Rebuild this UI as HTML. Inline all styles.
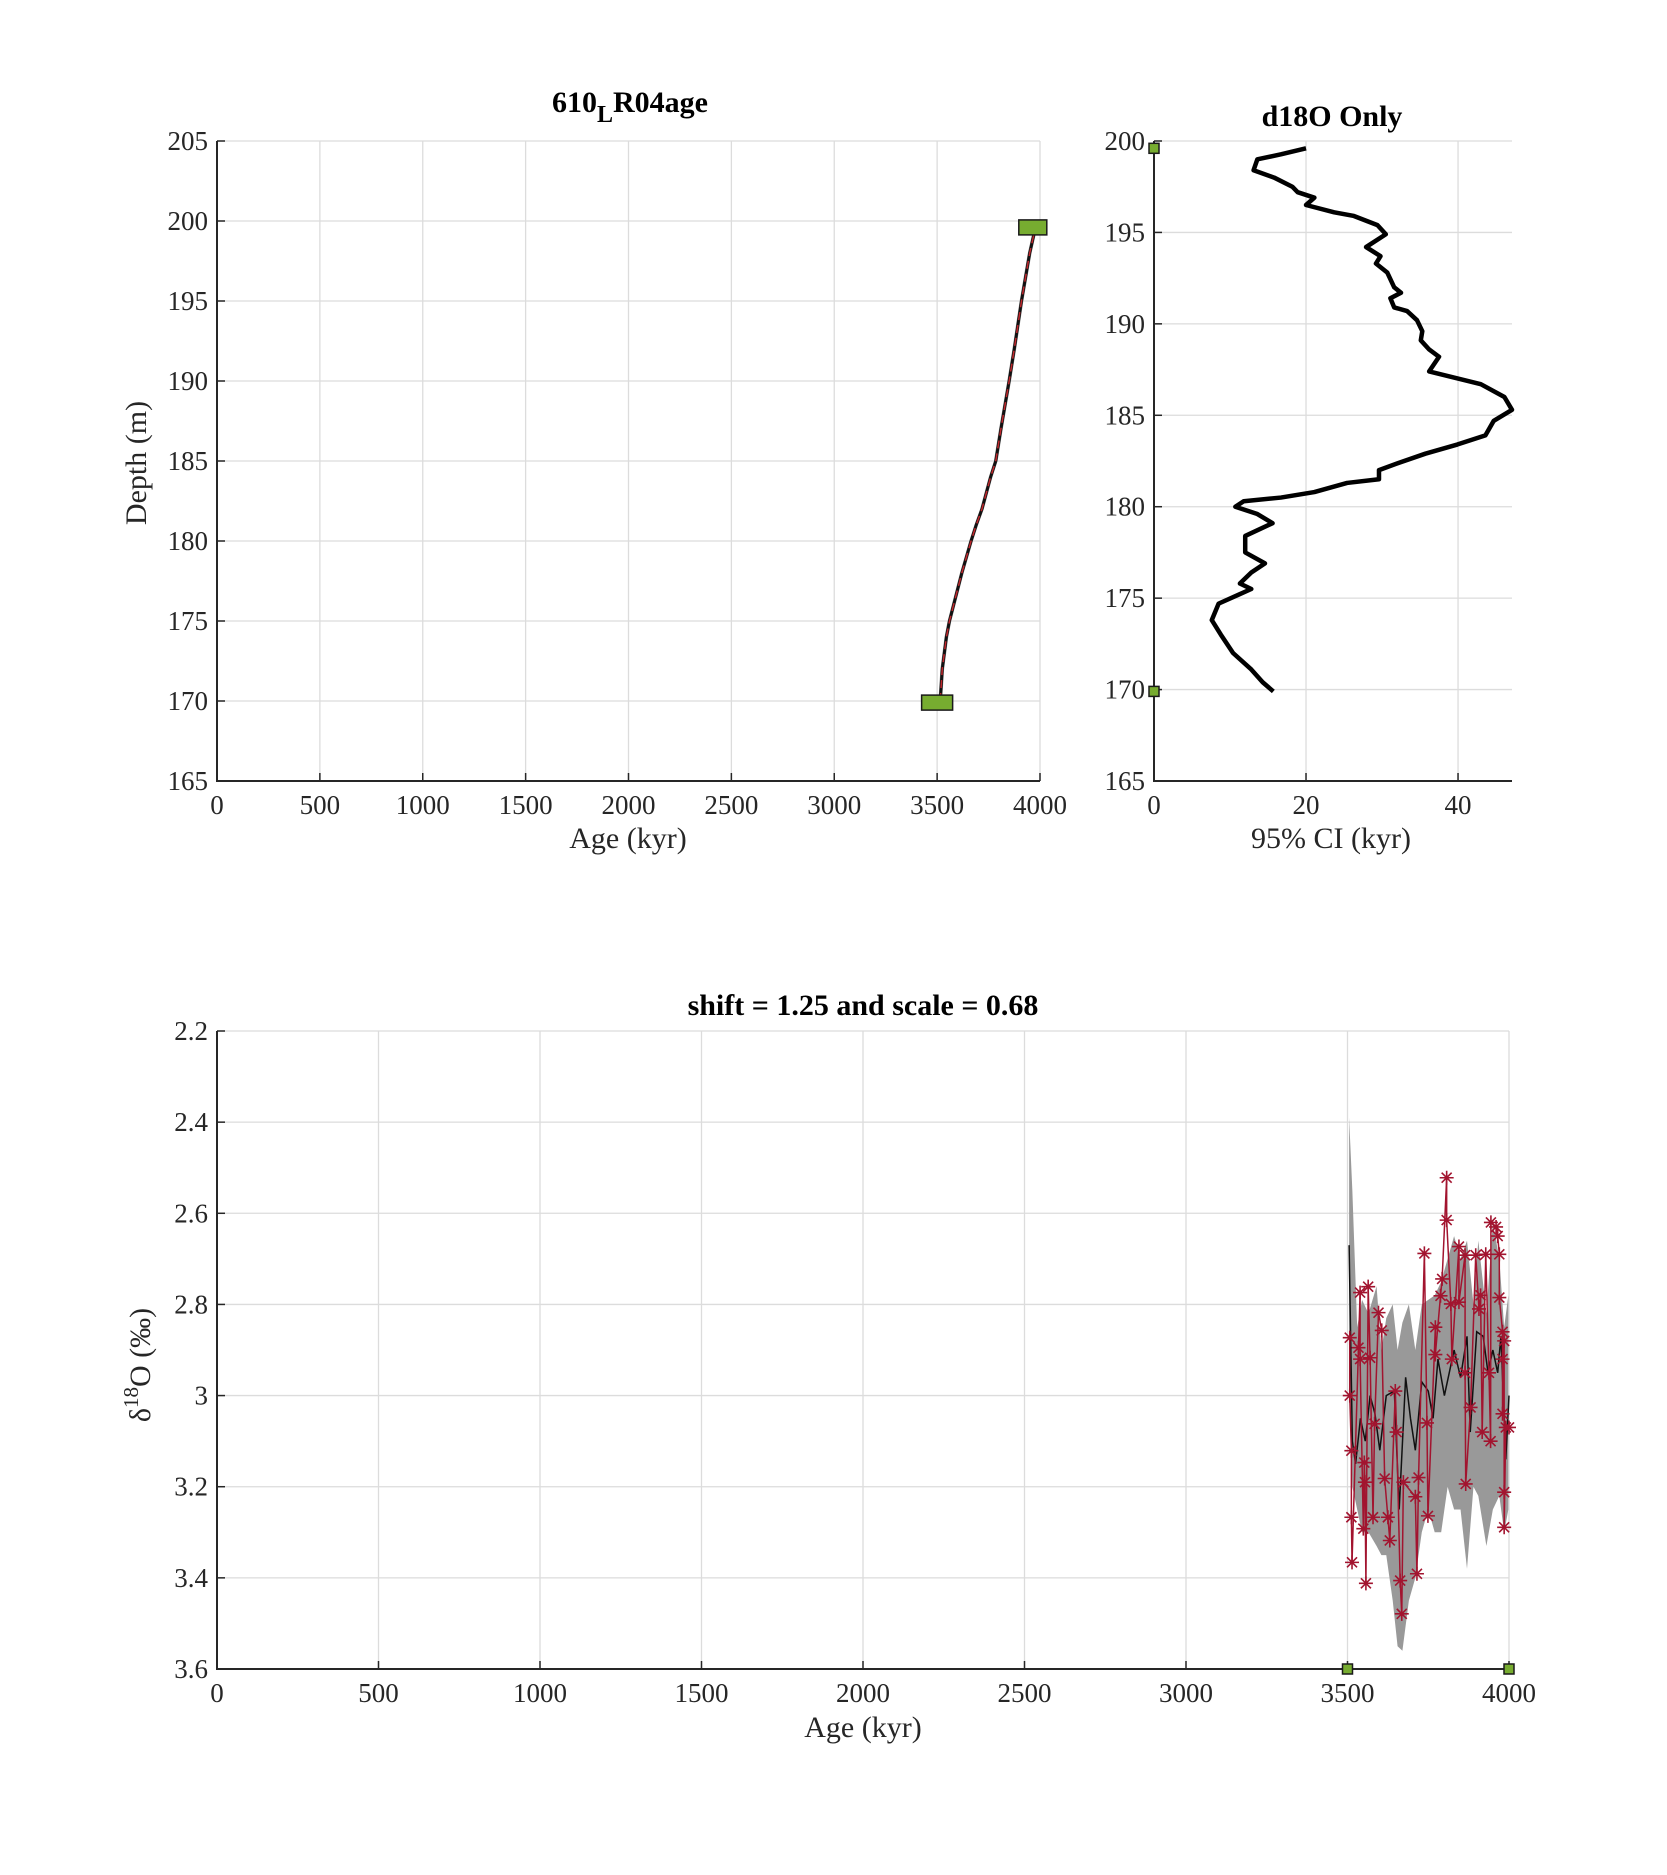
<!DOCTYPE html>
<html><head><meta charset="utf-8"><style>
body{margin:0;background:#fff}
svg{display:block}
text{font-family:"Liberation Serif",serif;fill:#262626}
</style></head><body>
<svg id="fig" width="1667" height="1875" viewBox="0 0 1667 1875" xmlns="http://www.w3.org/2000/svg">
<rect width="1667" height="1875" fill="#fff"/>
<g id="p1"></g>
<g id="p2"></g>
<g id="p3"></g>
<text x="630" y="112" text-anchor="middle" font-size="30" font-weight="bold" style="fill:#000">610<tspan font-size="24" dy="10">L</tspan><tspan dy="-10">R04age</tspan></text>
<text x="1332" y="126" text-anchor="middle" font-size="30" font-weight="bold" style="fill:#000">d18O Only</text>
<text x="863" y="1015" text-anchor="middle" font-size="30" font-weight="bold" style="fill:#000">shift = 1.25 and scale = 0.68</text>
<text transform="translate(146,463) rotate(-90)" text-anchor="middle" font-size="30">Depth (m)</text>
<text x="628" y="848" text-anchor="middle" font-size="30">Age (kyr)</text>
<text x="1331" y="848" text-anchor="middle" font-size="30">95% CI (kyr)</text>
<text x="863" y="1737" text-anchor="middle" font-size="30">Age (kyr)</text>
<text transform="translate(150,1365) rotate(-90)" text-anchor="middle" font-size="30">δ<tspan font-size="21" dy="-12">18</tspan><tspan dy="12">O (‰)</tspan></text>
</svg>
<script>
// ---- Panel 1: age-depth model ----
const adDepths = [170, 172, 174, 175, 176, 178, 180, 181, 182, 184, 185, 187, 190, 192, 195, 198, 200];
const adAges = [3515, 3525, 3545, 3560, 3580, 3620, 3665, 3690, 3718, 3760, 3785, 3810, 3850, 3875, 3910, 3950, 3985];
const adTiePointAges = [3500, 3965];
const adTiePointDepths = [169.9, 199.6];
// ---- Panel 2: 95% CI ----
const ciValues = [20.0,16.7,13.6,13.1,15.8,18.2,18.9,21.1,20.0,23.7,26.3,29.4,30.5,27.9,29.8,29.2,30.7,31.6,32.5,31.1,31.6,33.3,34.6,35.3,35.1,36.2,37.5,36.2,43.0,46.1,47.1,44.7,43.6,39.9,35.7,32.2,29.6,29.6,25.4,21.1,16.7,11.8,10.7,13.6,15.6,12.0,12.0,14.6,12.8,11.3,12.8,11.2,8.5,7.6,8.8,10.4,12.8,14.3,15.7];
const ciDepths = [199.6,199.27,199.0,198.4,198.0,197.5,197.2,196.9,196.5,196.1,195.9,195.4,194.9,194.2,193.7,193.3,192.8,192.0,191.7,191.4,190.9,190.7,190.2,189.6,189.1,188.6,188.2,187.4,186.7,186.0,185.3,184.7,183.9,183.4,182.9,182.4,182.0,181.5,181.3,180.8,180.5,180.3,180.0,179.6,179.1,178.4,177.5,176.9,176.4,175.8,175.5,175.2,174.7,173.8,173.0,172.0,171.1,170.4,169.9];
const ciTieDepths = [199.6, 169.9];
// ---- Panel 3: d18O ----
const obsAges = [3507,3507,3512,3512,3514,3534,3539,3539,3549,3552,3554,3557,3564,3570,3579,3584,3596,3606,3615,3625,3631,3648,3652,3663,3668,3673,3710,3715,3720,3738,3746,3749,3772,3772,3788,3793,3807,3807,3820,3823,3845,3845,3864,3864,3866,3881,3897,3907,3912,3917,3928,3938,3943,3944,3960,3965,3970,3970,3980,3980,3980,3985,3985,3985,3990,4000];
const obsValues = [2.873,3.0,3.121,3.267,3.366,2.895,2.774,2.92,3.292,3.147,3.19,3.412,2.761,2.917,3.267,3.062,2.818,2.857,3.182,3.267,3.318,2.99,3.08,3.406,3.479,3.19,3.222,3.391,3.18,2.688,3.06,3.264,2.85,2.91,2.781,2.744,2.522,2.615,2.799,2.92,2.673,2.795,2.692,2.95,3.194,3.026,2.692,2.81,2.78,3.08,2.69,2.95,3.1,2.62,2.63,2.65,2.69,2.785,2.86,2.92,3.04,2.88,3.212,3.289,3.07,3.07];
const meanAges = [3505,3515,3525,3540,3555,3570,3585,3600,3620,3645,3660,3680,3695,3710,3730,3750,3765,3780,3800,3815,3830,3850,3870,3880,3900,3920,3935,3950,3965,3975,3990,4000];
const meanValues = [2.67,3.1,3.15,3.05,3.1,3.0,3.04,3.12,3.0,2.99,3.25,2.96,3.05,3.12,2.97,2.99,3.05,2.92,3.0,2.95,2.9,2.96,2.87,3.08,2.86,2.87,2.95,2.9,2.95,2.87,3.14,3.0];
const bandAges = [3505,3515,3530,3545,3565,3590,3605,3620,3640,3655,3670,3690,3710,3730,3750,3770,3790,3810,3830,3850,3870,3890,3905,3930,3950,3970,3985,3998];
const bandUpper = [2.39,2.55,2.85,2.79,2.82,2.76,2.9,2.83,2.8,2.9,2.84,2.8,2.9,2.8,2.79,2.78,2.75,2.7,2.65,2.7,2.66,2.8,2.66,2.82,2.62,2.7,2.85,2.78];
const bandLower = [2.95,3.2,3.25,3.3,3.3,3.33,3.35,3.35,3.45,3.55,3.56,3.45,3.4,3.3,3.25,3.3,3.3,3.2,3.25,3.25,3.38,3.2,3.22,3.33,3.25,3.22,3.3,3.25];
const p3TieAges = [3500, 4000];
const p1XTicks = [0,500,1000,1500,2000,2500,3000,3500,4000];
const p1YTicks = [165,170,175,180,185,190,195,200,205];
const p2XTicks = [0,20,40];
const p2YTicks = [165,170,175,180,185,190,195,200];
const p3XTicks = [0,500,1000,1500,2000,2500,3000,3500,4000];
const p3YTicks = [2.2,2.4,2.6,2.8,3,3.2,3.4,3.6];

const NS="http://www.w3.org/2000/svg";
function mk(parent,tag,attrs){const e=document.createElementNS(NS,tag);for(const k in attrs)e.setAttribute(k,attrs[k]);parent.appendChild(e);return e;}
function lin(d0,d1,r0,r1){return v=>r0+(v-d0)/(d1-d0)*(r1-r0);}

function axes(g,x0,x1,y0,y1,sx,sy,xt,yt,prefix){
  xt.forEach(t=>{const l=mk(g,'line',{x1:sx(t),x2:sx(t),y1:y0,y2:y1,stroke:'#dcdcdc','stroke-width':1.3});
    
    });
  yt.forEach(t=>{const l=mk(g,'line',{x1:x0,x2:x1,y1:sy(t),y2:sy(t),stroke:'#dcdcdc','stroke-width':1.3});
    
    });
}
function frame(g,x0,x1,y0,y1,sx,sy,xt,yt,prefix,fmtY){
  const a=mk(g,'path',{d:`M${x0},${y0}V${y1}H${x1}`,stroke:'#262626','stroke-width':2,fill:'none'});
  
  
  xt.forEach(t=>{mk(g,'line',{x1:sx(t),x2:sx(t),y1:y1,y2:y1-8,stroke:'#262626','stroke-width':1.5});
    const tx=mk(g,'text',{x:sx(t),y:y1+33,'text-anchor':'middle','font-size':27});tx.textContent=t;
    
    });
  yt.forEach(t=>{mk(g,'line',{x1:x0,x2:x0+8,y1:sy(t),y2:sy(t),stroke:'#262626','stroke-width':1.5});
    const tx=mk(g,'text',{x:x0-9,y:sy(t)+9,'text-anchor':'end','font-size':27});tx.textContent=fmtY?fmtY(t):t;
    
    });
}
function square(g,cx,cy,w,h,name){const r=mk(g,'rect',{x:cx-w/2,y:cy-h/2,width:w,height:h,fill:'#77ac30',stroke:'#1a1a1a','stroke-width':1.5});
  
  }

// Panel 1
(function(){
  const g=document.getElementById('p1');
  const X0=217,X1=1040,Y0=141,Y1=781;
  const sx=lin(0,4000,X0,X1), sy=lin(205,165,Y0,Y1);
  axes(g,X0,X1,Y0,Y1,sx,sy,p1XTicks,p1YTicks,'p1');
  let up='';
  adDepths.forEach((d,i)=>{up+=(i?'L':'M')+sx(adAges[i]-9)+','+sy(d);});
  for(let i=adDepths.length-1;i>=0;i--){up+='L'+sx(adAges[i]+9)+','+sy(adDepths[i]);}
  const band=mk(g,'path',{d:up+'Z',fill:'#8c8c8c'});
  
  
  let p='';adDepths.forEach((d,i)=>{p+=(i?'L':'M')+sx(adAges[i])+','+sy(d);});
  const bl=mk(g,'path',{d:p,stroke:'#111',fill:'none','stroke-width':3});
  
  
  const rl=mk(g,'path',{d:p,stroke:'#c0282d',fill:'none','stroke-width':1.5,'stroke-dasharray':'8 5'});
  
  
  frame(g,X0,X1,Y0,Y1,sx,sy,p1XTicks,p1YTicks,'p1');
  adTiePointAges.forEach((a,i)=>square(g,sx(a),sy(adTiePointDepths[i]),i?28:31,15,'tie-point-marker'));
})();

// Panel 2
(function(){
  const g=document.getElementById('p2');
  const X0=1154,X1=1512,Y0=141,Y1=781;
  const sx=lin(0,47.1,X0,X1), sy=lin(200,165,Y0,Y1);
  axes(g,X0,X1,Y0,Y1,sx,sy,p2XTicks,p2YTicks,'p2');
  let p='';ciValues.forEach((v,i)=>{p+=(i?'L':'M')+sx(v)+','+sy(ciDepths[i]);});
  const l=mk(g,'path',{d:p,stroke:'#000',fill:'none','stroke-width':4.5,'stroke-linejoin':'round'});
  
  
  frame(g,X0,X1,Y0,Y1,sx,sy,p2XTicks,p2YTicks,'p2');
  ciTieDepths.forEach(d=>square(g,sx(0),sy(d),10,10,'ci-tie-point-marker'));
})();

// Panel 3
(function(){
  const g=document.getElementById('p3');
  const X0=217,X1=1509,Y0=1031,Y1=1669;
  const sx=lin(0,4000,X0,X1), sy=lin(2.2,3.6,Y0,Y1);
  axes(g,X0,X1,Y0,Y1,sx,sy,p3XTicks,p3YTicks,'p3');
  let b='';bandAges.forEach((a,i)=>{b+=(i?'L':'M')+sx(a)+','+sy(bandUpper[i]);});
  for(let i=bandAges.length-1;i>=0;i--)b+='L'+sx(bandAges[i])+','+sy(bandLower[i]);
  const band=mk(g,'path',{d:b+'Z',fill:'#999'});
  
  
  let m='';meanAges.forEach((a,i)=>{m+=(i?'L':'M')+sx(a)+','+sy(meanValues[i]);});
  const ml=mk(g,'path',{d:m,stroke:'#111',fill:'none','stroke-width':1.5});
  
  
  let o='';obsAges.forEach((a,i)=>{o+=(i?'L':'M')+sx(a)+','+sy(obsValues[i]);});
  const ol=mk(g,'path',{d:o,stroke:'#a2142f',fill:'none','stroke-width':1.5});
  
  
  obsAges.forEach((a,i)=>{const cx=sx(a),cy=sy(obsValues[i]),r=7;
    const s=mk(g,'path',{d:`M${cx-r},${cy}H${cx+r}M${cx},${cy-r}V${cy+r}M${cx-5},${cy-5}L${cx+5},${cy+5}M${cx-5},${cy+5}L${cx+5},${cy-5}`,stroke:'#a2142f','stroke-width':1.6});
    
    });
  frame(g,X0,X1,Y0,Y1,sx,sy,p3XTicks,p3YTicks,'p3',t=>String(t));
  p3TieAges.forEach(a=>square(g,sx(a),Y1,10,10,'d18o-tie-point-marker'));
})();
</script>
</body></html>
